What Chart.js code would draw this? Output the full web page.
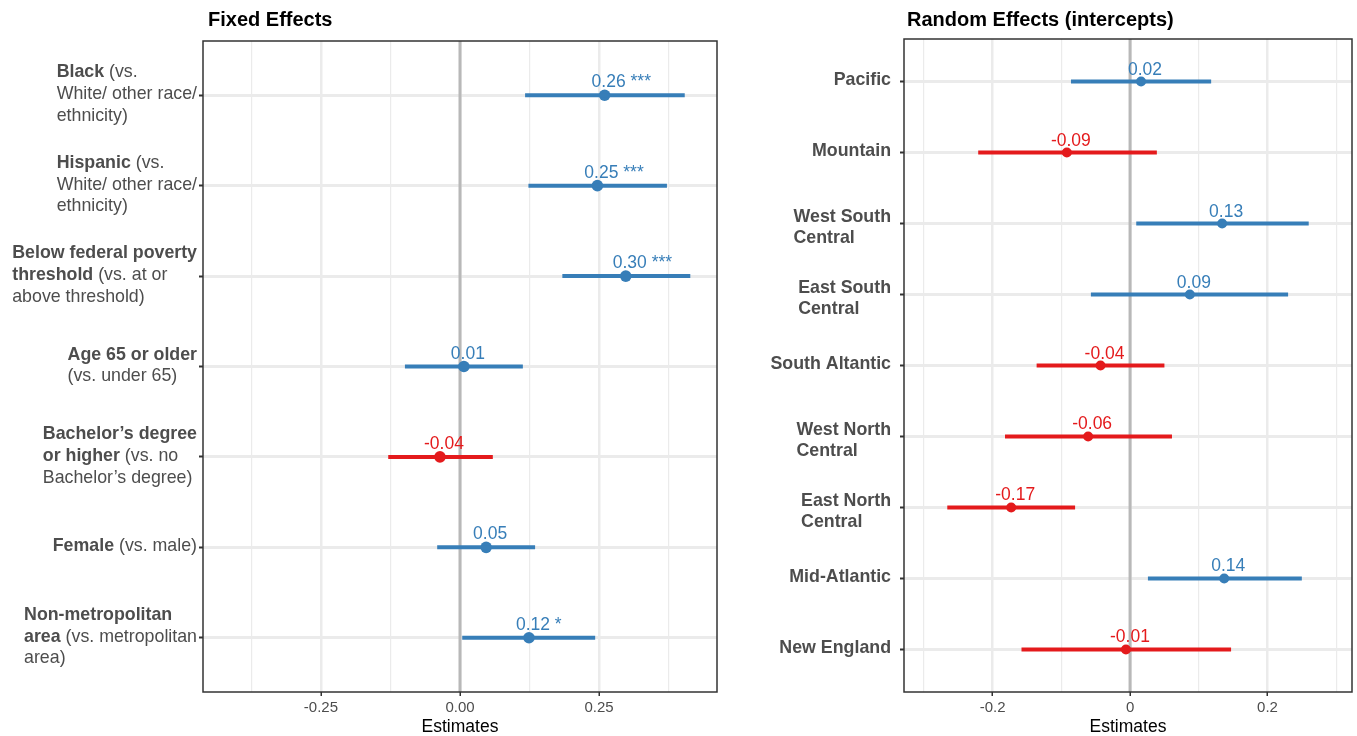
<!DOCTYPE html>
<html>
<head>
<meta charset="utf-8">
<script src="https://cdn.jsdelivr.net/npm/chart.js@4.4.0/dist/chart.umd.min.js"></script>
<style>
  body { margin: 0; background: #fff; }
  canvas { position: absolute; top: 0; }
  #fixed { left: 0; }
  #random { left: 740px; }
</style>
</head>
<body>
<canvas id="fixed" width="740" height="736"></canvas>
<canvas id="random" width="617" height="736"></canvas>
<script>
// --- DATA ---
// label lines, **...** marks the bold part
const fixedLabels = [
    ['**Black** (vs.', 'White/ other race/', 'ethnicity)'],
    ['**Hispanic** (vs.', 'White/ other race/', 'ethnicity)'],
    ['**Below federal poverty**', '**threshold** (vs. at or', 'above threshold)'],
    ['**Age 65 or older**', '(vs. under 65)'],
    ['**Bachelor’s degree**', '**or higher** (vs. no', 'Bachelor’s degree)'],
    ['**Female** (vs. male)'],
    ['**Non-metropolitan**', '**area** (vs. metropolitan', 'area)']
];
const fixedEst   = [0.260, 0.247, 0.298, 0.007, -0.036, 0.047, 0.124];
const fixedLow   = [0.117, 0.123, 0.184, -0.099, -0.129, -0.041, 0.004];
const fixedHigh  = [0.404, 0.372, 0.414, 0.113, 0.059, 0.135, 0.243];
const fixedStars = ['***', '***', '***', '', '', '', '*'];
const fixedTicks = [-0.375, -0.25, -0.125, 0, 0.125, 0.25, 0.375];
const fixedTickLabels = ['', '-0.25', '', '0.00', '', '0.25', ''];

const randomLabels = [
    ['**Pacific**'],
    ['**Mountain**'],
    ['**West South**', '**Central**'],
    ['**East South**', '**Central**'],
    ['**South Altantic**'],
    ['**West North**', '**Central**'],
    ['**East North**', '**Central**'],
    ['**Mid-Atlantic**'],
    ['**New England**']
];
const randomEst   = [0.016, -0.092, 0.134, 0.087, -0.043, -0.061, -0.173, 0.137, -0.006];
const randomLow   = [-0.086, -0.221, 0.009, -0.057, -0.136, -0.182, -0.266, 0.026, -0.158];
const randomHigh  = [0.118, 0.039, 0.260, 0.230, 0.050, 0.061, -0.080, 0.250, 0.147];
const randomStars = ['', '', '', '', '', '', '', '', ''];
const randomTicks = [-0.3, -0.2, -0.1, 0, 0.1, 0.2, 0.3];
const randomTickLabels = ['', '-0.2', '', '0', '', '0.2', ''];

// --- STYLE ---
const FONT = '"Liberation Sans", Arial, sans-serif';
const BLUE = '#377EB8';
const RED = '#E41A1C';
const LABEL_SIZE = 17.8;
const VALUE_SIZE = 17.5;
const LINE_H = 21.7;

function colorFor(v) { return v > 0 ? BLUE : RED; }

function richWidth(ctx, line) {
    let w = 0;
    line.split('**').forEach((p, k) => {
        if (!p) return;
        ctx.font = (k % 2 ? 'bold ' : '') + LABEL_SIZE + 'px ' + FONT;
        w += ctx.measureText(p).width;
    });
    return w;
}

function drawRich(ctx, line, x, y) {
    let cx = x;
    line.split('**').forEach((p, k) => {
        if (!p) return;
        ctx.font = (k % 2 ? 'bold ' : '') + LABEL_SIZE + 'px ' + FONT;
        ctx.fillText(p, cx, y);
        cx += ctx.measureText(p).width;
    });
}

function makePanel(id, cfg) {
    const n = cfg.labels.length;
    const isMajor = i => cfg.tickLabels[i] !== '';

    const ciSets = cfg.labels.map((_, i) => ({
        data: [{ x: cfg.low[i], y: i }, { x: cfg.high[i], y: i }],
        showLine: true,
        borderColor: colorFor(cfg.est[i]),
        borderWidth: 4,
        pointRadius: 0
    }));
    const pointSet = {
        data: cfg.est.map((v, i) => ({ x: v, y: i })),
        pointRadius: cfg.pointRadius,
        pointBackgroundColor: cfg.est.map(colorFor),
        pointBorderWidth: 0,
        showLine: false
    };

    const panelPlugin = {
        id: 'panel' + id,
        beforeDatasetsDraw(chart) {
            const { ctx, chartArea } = chart;
            const x0 = chart.scales.x.getPixelForValue(0);
            ctx.save();
            ctx.strokeStyle = '#B8B8B8';
            ctx.lineWidth = 3;
            ctx.beginPath();
            ctx.moveTo(x0, chartArea.top);
            ctx.lineTo(x0, chartArea.bottom);
            ctx.stroke();
            ctx.restore();
        },
        afterDatasetsDraw(chart) {
            const ctx = chart.ctx;
            const meta = chart.getDatasetMeta(chart.data.datasets.length - 1);
            ctx.save();
            ctx.textBaseline = 'alphabetic';
            ctx.font = VALUE_SIZE + 'px ' + FONT;
            meta.data.forEach((pt, i) => {
                const num = cfg.est[i].toFixed(2);
                const w = ctx.measureText(num).width;
                const left = pt.x + 4 - w / 2;
                const y = pt.y - cfg.labelLift;
                ctx.fillStyle = colorFor(cfg.est[i]);
                ctx.textAlign = 'left';
                ctx.fillText(num, left, y);
                if (cfg.stars[i]) ctx.fillText(' ' + cfg.stars[i], left + w, y);
            });
            ctx.restore();
        },
        afterDraw(chart) {
            const { ctx, chartArea } = chart;
            ctx.save();
            // panel border
            ctx.strokeStyle = '#333333';
            ctx.lineWidth = 1.5;
            ctx.strokeRect(chartArea.left, chartArea.top, chartArea.right - chartArea.left, chartArea.bottom - chartArea.top);
            // title
            ctx.fillStyle = '#000';
            ctx.font = 'bold 20px ' + FONT;
            ctx.textBaseline = 'middle';
            ctx.textAlign = 'left';
            ctx.fillText(cfg.title, cfg.titleX, 20);
            // y labels
            ctx.fillStyle = '#4D4D4D';
            const yScale = chart.scales.y;
            cfg.labels.forEach((lines, i) => {
                const ty = yScale.getPixelForValue(i);
                const bw = Math.max(...lines.map(l => richWidth(ctx, l)));
                const bx = chartArea.left - cfg.labelGap - bw;
                const shift = lines.length > 1 ? cfg.multiShift : 0;
                const y0 = ty - (lines.length - 1) * LINE_H / 2 - 1 + shift;
                lines.forEach((l, k) => drawRich(ctx, l, bx, y0 + k * LINE_H));
            });
            ctx.restore();
        }
    };

    return new Chart(document.getElementById(id), {
        type: 'scatter',
        data: { datasets: [...ciSets, pointSet] },
        options: {
            responsive: false,
            animation: false,
            layout: { padding: { top: cfg.top, right: cfg.padRight, left: 0, bottom: 0 } },
            plugins: { legend: { display: false }, tooltip: { enabled: false } },
            scales: {
                x: {
                    type: 'linear',
                    min: cfg.xMin,
                    max: cfg.xMax,
                    afterBuildTicks: s => { s.ticks = cfg.ticks.map(v => ({ value: v })); },
                    afterFit: s => { s.height = 44; },
                    border: { display: false },
                    grid: {
                        color: '#EBEBEB',
                        lineWidth: c => isMajor(c.index) ? 2.5 : 1.2,
                        tickColor: c => isMajor(c.index) ? '#333333' : 'rgba(0,0,0,0)',
                        tickLength: 4,
                        tickWidth: 1.5
                    },
                    ticks: {
                        autoSkip: false,
                        maxRotation: 0,
                        padding: 3,
                        color: '#4D4D4D',
                        font: { family: FONT, size: 15 },
                        callback: (v, i) => cfg.tickLabels[i]
                    },
                    title: {
                        display: true,
                        text: 'Estimates',
                        color: '#000',
                        font: { family: FONT, size: 17.5, lineHeight: 1 },
                        padding: 0
                    }
                },
                y: {
                    type: 'linear',
                    reverse: true,
                    min: -0.6,
                    max: n - 0.4,
                    afterBuildTicks: s => { s.ticks = cfg.labels.map((_, i) => ({ value: i })); },
                    afterFit: s => { s.width = cfg.yWidth; },
                    border: { display: false },
                    ticks: { display: false },
                    grid: { color: '#EBEBEB', lineWidth: 3, tickColor: '#333333', tickLength: 4, tickWidth: 2 }
                }
            }
        },
        plugins: [panelPlugin]
    });
}

makePanel('fixed', {
    title: 'Fixed Effects', titleX: 208,
    labels: fixedLabels, est: fixedEst, low: fixedLow, high: fixedHigh, stars: fixedStars,
    ticks: fixedTicks, tickLabels: fixedTickLabels,
    xMin: -0.462, xMax: 0.462,
    top: 41, padRight: 23, yWidth: 203,
    pointRadius: 5.8, labelLift: 8, labelGap: 6, multiShift: 0
});

makePanel('random', {
    title: 'Random Effects (intercepts)', titleX: 167,
    labels: randomLabels, est: randomEst, low: randomLow, high: randomHigh, stars: randomStars,
    ticks: randomTicks, tickLabels: randomTickLabels,
    xMin: -0.329, xMax: 0.323,
    top: 39, padRight: 5, yWidth: 164,
    pointRadius: 5, labelLift: 7, labelGap: 13, multiShift: 5
});
</script>
</body>
</html>
